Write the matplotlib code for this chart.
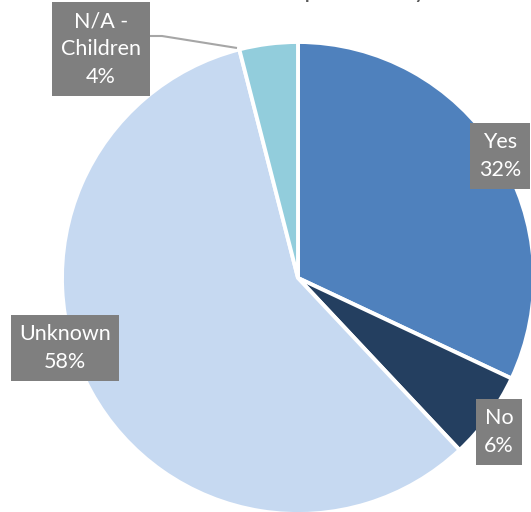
import matplotlib
matplotlib.use("Agg")
import matplotlib.pyplot as plt

# data
labels = ["Yes", "No", "Unknown", "N/A -\nChildren"]
shares = [32, 6, 58, 4]
colors = ["#4F81BD", "#243F60", "#C6D9F1", "#92CDDC"]

# label box centres (pixels, y up)
label_pos = [(500, 356), (499, 80), (65, 164), (101, 463)]

plt.rcParams['font.family'] = ['Lato', 'DejaVu Sans']

W, H = 531, 512
fig = plt.figure(figsize=(W / 100, H / 100), dpi=100)
ax = fig.add_axes([0, 0, 1, 1])

wedges, _ = ax.pie(shares, colors=colors, startangle=90, counterclock=False,
                   center=(298, 234), radius=236, frame=True,
                   wedgeprops=dict(edgecolor='white', linewidth=2.8))
ax.set_xlim(0, W)
ax.set_ylim(0, H)
ax.set_aspect('equal')
ax.axis('off')

# leader line for the small slice
ax.plot([149, 162, 237], [476, 476, 464], color='#A6A6A6', lw=1.5, zorder=1,
        solid_capstyle='butt')

for lab, v, (x, y) in zip(labels, shares, label_pos):
    ax.text(x, y, f"{lab}\n{v}%", ha='center', va='center', color='white',
            fontsize=15.5, linespacing=1.5, zorder=5,
            bbox=dict(boxstyle='square,pad=0.4', fc='#7F7F7F', ec='none'))

# title, mostly cut off at the top edge
ax.text(198, 514, "Ownership Status by", ha='left', va='baseline',
        color='#595959', fontsize=18, clip_on=False)

fig.savefig("out.png", dpi=100)
